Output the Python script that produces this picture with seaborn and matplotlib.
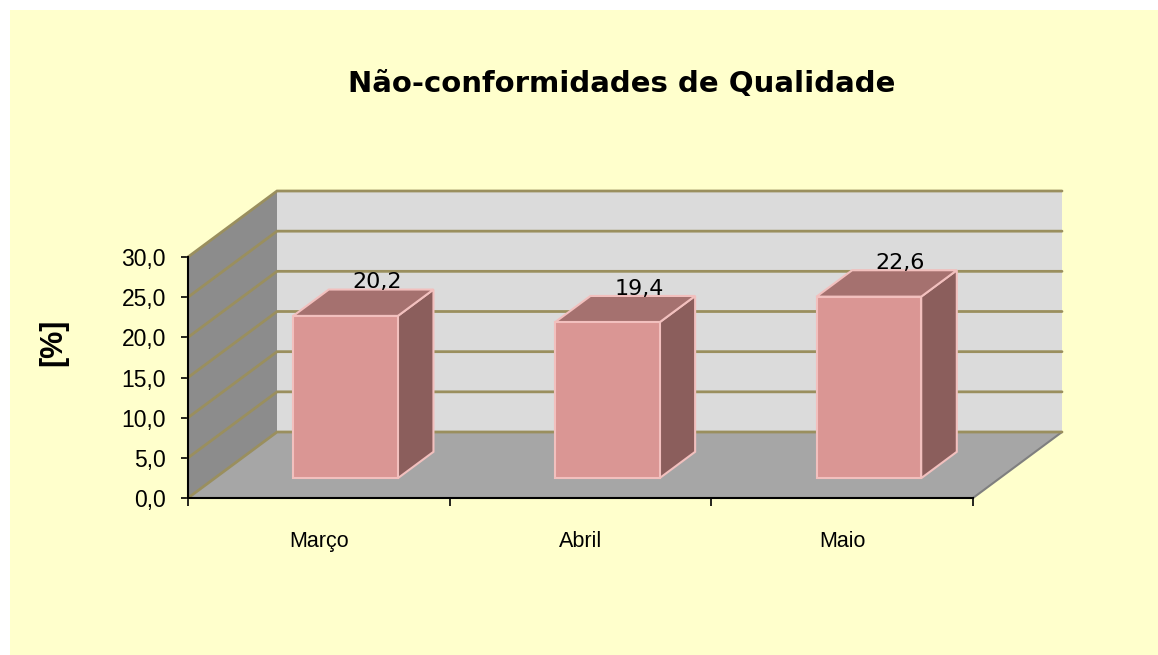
"""Gráfico de barras 3D (estilo Excel): não-conformidades de qualidade."""

import matplotlib
matplotlib.use("Agg")

import matplotlib.pyplot as plt
import numpy as np
import pandas as pd
import seaborn as sns
from matplotlib.patches import Polygon, Rectangle
from matplotlib.ticker import FixedLocator, FuncFormatter

# dados
meses = ["Março", "Abril", "Maio"]
valores = [20.2, 19.4, 22.6]
y_ticks = [0, 5, 10, 15, 20, 25, 30]
titulo = "Não-conformidades de Qualidade"
y_rotulo = "[%]"

sns.set_style("white")
plt.rcParams["font.family"] = ["Liberation Sans", "DejaVu Sans"]
plt.rcParams["text.color"] = "black"
plt.rcParams["axes.labelcolor"] = "black"
plt.rcParams["xtick.color"] = "black"
plt.rcParams["ytick.color"] = "black"

# cores
FUNDO = "#FFFFCC"
PAREDE_ESQ = "#8C8C8C"
PAREDE_FUNDO = "#DBDBDB"
CHAO = "#A6A6A6"
GRADE = "#9A8F5E"
FRENTE = "#DA9694"
TOPO = "#A5716F"
LADO = "#8B5E5C"
BORDA = "#F2C0BE"

W, H = 1158, 655
fig = plt.figure(figsize=(W / 100, H / 100), dpi=100, facecolor="white")
fig.patches.append(Rectangle((10 / W, 0), 1, 645 / H, transform=fig.transFigure,
                             facecolor=FUNDO, edgecolor="none", zorder=-10))

# eixo = plano frontal do "cubo"
ax = fig.add_axes([188 / W, 1 - 498 / H, 785 / W, 241 / H])
ax.set_facecolor("none")

df = pd.DataFrame({"mes": meses, "valor": valores})
sns.barplot(data=df, x="mes", y="valor", width=0.4, color=FRENTE,
            edgecolor=BORDA, linewidth=1.5, saturation=1, ax=ax, zorder=5)

n = len(meses)
x0, x1 = -0.5, n - 0.5
ymax = y_ticks[-1]
ax.set_xlim(x0, x1)
ax.set_ylim(0, ymax)

# vetor de profundidade (em unidades de dados)
Dx, Dy = 89 / (785 / n), 66 / (241 / ymax)

# paredes e chão
ax.add_patch(Polygon([(x0, 0), (x0, ymax), (x0 + Dx, ymax + Dy), (x0 + Dx, Dy)],
                     facecolor=PAREDE_ESQ, edgecolor="none", clip_on=False, zorder=0))
ax.add_patch(Polygon([(x0 + Dx, Dy), (x0 + Dx, ymax + Dy), (x1 + Dx, ymax + Dy), (x1 + Dx, Dy)],
                     facecolor=PAREDE_FUNDO, edgecolor="none", clip_on=False, zorder=0))
ax.add_patch(Polygon([(x0, 0), (x1, 0), (x1 + Dx, Dy), (x0 + Dx, Dy)],
                     facecolor=CHAO, edgecolor="none", clip_on=False, zorder=0))
ax.plot([x1, x1 + Dx], [0, Dy], color="#7F7F7F", lw=1.5, clip_on=False, zorder=1)

# linhas de grade (parede esquerda + parede do fundo)
for v in y_ticks:
    ax.plot([x0, x0 + Dx, x1 + Dx], [v, v + Dy, v + Dy], color=GRADE,
            lw=2, clip_on=False, zorder=1, solid_joinstyle="miter")

# barras 3D: desloca a face frontal e desenha topo e lado
b0x, b0y = 0.3 * Dx, 0.3 * Dy
bdx, bdy = 0.4 * Dx, 0.4 * Dy
for p, v in zip(ax.patches[:n], valores):
    p.set_x(p.get_x() + b0x)
    p.set_y(b0y)
    p.set_clip_on(False)
    x, w, h = p.get_x(), p.get_width(), p.get_height()
    top = h + b0y
    ax.add_patch(Polygon([(x + w, b0y), (x + w, top), (x + w + bdx, top + bdy), (x + w + bdx, b0y + bdy)],
                         facecolor=LADO, edgecolor=BORDA, lw=1.5, clip_on=False, zorder=4))
    ax.add_patch(Polygon([(x, top), (x + w, top), (x + w + bdx, top + bdy), (x + bdx, top + bdy)],
                         facecolor=TOPO, edgecolor=BORDA, lw=1.5, clip_on=False, zorder=4))
    ax.text(x + w / 2 + bdx - 0.015, top + bdy + 0.15, f"{v:.1f}".replace(".", ","),
            ha="center", va="baseline", fontsize=16, family="DejaVu Sans",
            color="black", zorder=6)

# eixos
for s in ["top", "right"]:
    ax.spines[s].set_visible(False)
for s in ["left", "bottom"]:
    ax.spines[s].set_color("black")
    ax.spines[s].set_linewidth(1.5)
    ax.spines[s].set_zorder(7)

ax.yaxis.set_major_locator(FixedLocator(y_ticks))
ax.yaxis.set_major_formatter(FuncFormatter(lambda v, _: f"{v:.1f}".replace(".", ",")))
ax.tick_params(axis="y", left=True, length=5, width=1.2, color="black",
               pad=11, labelsize=16.5)

ax.xaxis.set_major_locator(FixedLocator(np.arange(n + 1) - 0.5))
ax.xaxis.set_major_formatter(FuncFormatter(lambda v, _: ""))
ax.xaxis.set_minor_locator(FixedLocator(np.arange(n)))
ax.xaxis.set_minor_formatter(FuncFormatter(lambda v, _: meses[int(round(v))]))
ax.tick_params(axis="x", which="major", bottom=True, length=6, width=1.2,
               color="black")
ax.tick_params(axis="x", which="minor", bottom=True, length=0, pad=24,
               labelsize=15.5)
ax.set_xlabel("")

ax.set_ylabel(y_rotulo, fontsize=22, fontweight="bold")
ax.yaxis.set_label_coords(-0.152, 0.647)

fig.text(622 / W, 1 - 84 / H, titulo, ha="center", va="center",
         fontsize=21, fontweight="bold", family="DejaVu Sans")

fig.savefig("out.png", dpi=100, facecolor="white")
